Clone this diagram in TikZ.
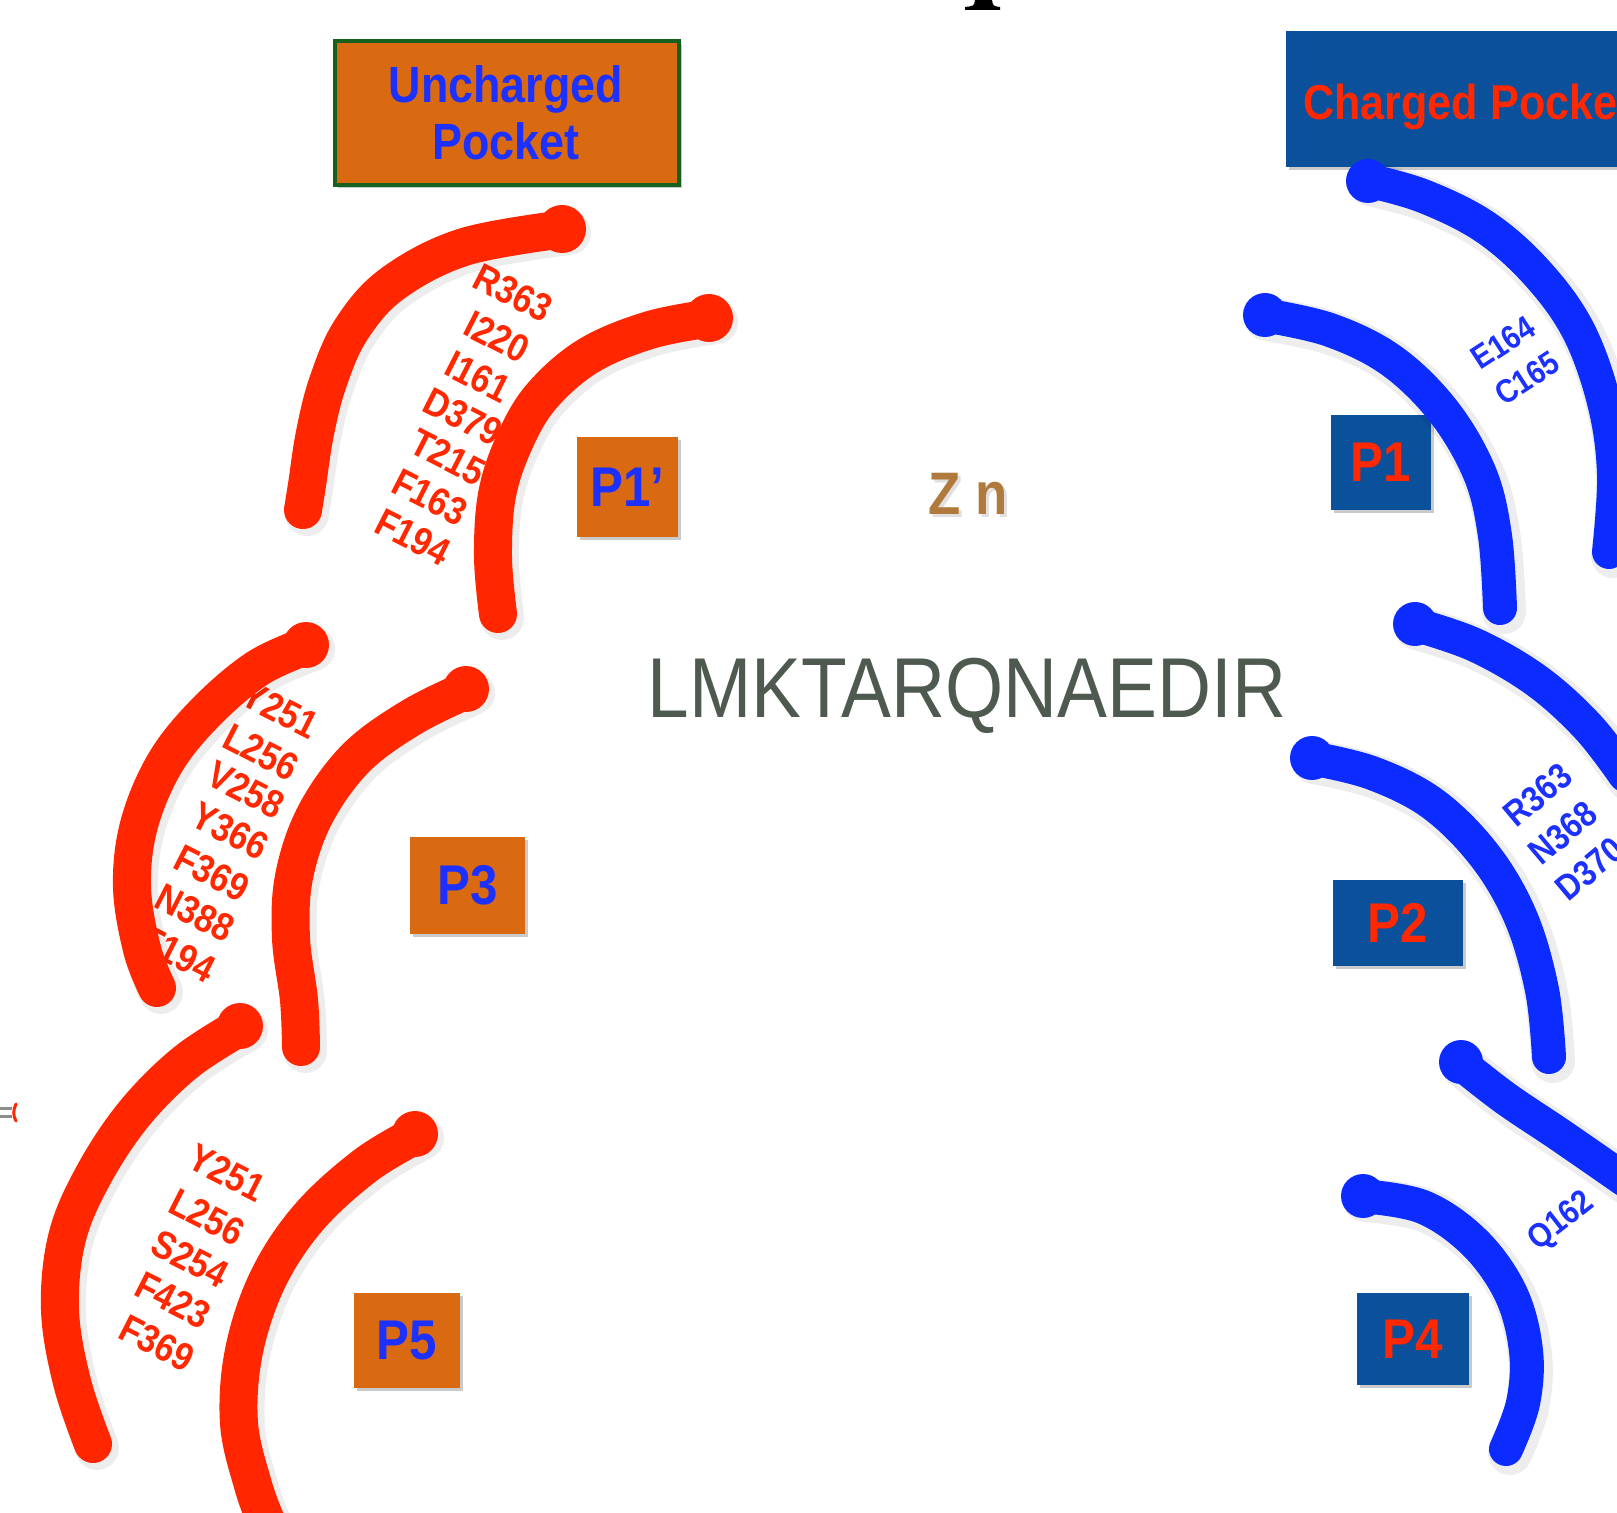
\documentclass[tikz,border=0pt]{standalone}
\usepackage{fontspec}
\setmainfont{Liberation Sans}[FakeStretch=0.88]
\usetikzlibrary{shadows}
\definecolor{pocketorange}{RGB}{217,106,18}
\definecolor{pocketgreen}{RGB}{22,96,30}
\definecolor{labelblue}{RGB}{28,48,255}
\definecolor{boxblue}{RGB}{10,80,155}
\definecolor{labelred}{RGB}{255,40,0}
\definecolor{arcred}{RGB}{255,38,0}
\definecolor{arcblue}{RGB}{12,44,255}
\definecolor{zncol}{RGB}{176,122,60}
\definecolor{seqcol}{RGB}{78,90,80}
\tikzset{
  boxshadow/.style={drop shadow={shadow xshift=1.5pt,shadow yshift=-1.5pt,opacity=0.35,fill=black!60}},
  obox/.style={fill=pocketorange,boxshadow,inner sep=0pt,text=labelblue,font=\bfseries\fontsize{28}{30}\selectfont},
  bbox/.style={fill=boxblue,boxshadow,inner sep=0pt,text=labelred,font=\bfseries\fontsize{28}{30}\selectfont},
  redres/.style={inner sep=0pt,text=labelred,font=\bfseries\fontsize{19.5}{19.5}\selectfont,rotate=-27},
  blueres/.style={inner sep=0pt,text=labelblue,font=\bfseries\fontsize{16.5}{16.5}\selectfont,rotate=36},
  redarc/.style={draw=arcred,line width=19pt,line cap=round,line join=round},
  bluearc/.style={draw=arcblue,line width=17pt,line cap=round,line join=round},
  arcshadow/.style={draw=black,opacity=0.07,line width=22pt,line cap=round,line join=round},
}
\begin{document}
\begin{tikzpicture}[x=0.5pt,y=-0.5pt]
\useasboundingbox (0,0) rectangle (1617,1513);
\clip (0,0) rectangle (1617,1513);

% top fragment
\fill[black] (965,10) -- (1000,10) -- (1000,7) .. controls (993,6) .. (992,0) -- (975,0) .. controls (974,6) .. (965,7) -- cycle;
% left fragment
\draw[black!45,line width=1.5pt] (0,1108) -- (12,1108) (0,1116) -- (12,1116);
\draw[arcred,line width=1.5pt,line cap=round] (16,1104) .. controls (13,1110) and (13,1116) .. (16,1121);

% header boxes
\node[draw=pocketgreen,line width=2pt,fill=pocketorange,boxshadow,minimum width=172pt,minimum height=72pt,inner sep=0pt] (uncharged) at (507,113.5) {};
\node[text=labelblue,font=\bfseries\fontsize{25.5}{28.5}\selectfont,align=center,inner sep=0pt] (unchargedtext) at (506,113) {Uncharged\\Pocket};
\node[bbox,minimum width=207pt,minimum height=68pt] (charged) at (1493,99) {};
\node[text=labelred,font=\bfseries\fontsize{24.5}{25}\selectfont,inner sep=0pt,anchor=base west] (chargedtext) at (1303,120) {Charged Pocket};

% pocket boxes
\node[obox,minimum width=50.5pt,minimum height=50pt] (p1p) at (627.5,487) {P1’};
\node[obox,minimum width=57.5pt,minimum height=48.5pt] (p3) at (467.5,885.5) {P3};
\node[obox,minimum width=53pt,minimum height=47.5pt] (p5) at (407,1340.5) {P5};
\node[bbox,minimum width=50pt,minimum height=47.5pt] (p1) at (1381,462.5) {P1};
\node[bbox,minimum width=65pt,minimum height=43pt] (p2) at (1398,923) {P2};
\node[bbox,minimum width=56pt,minimum height=46pt] (p4) at (1413,1339) {P4};

% centre texts
\node[text=black,opacity=0.12,font=\bfseries\fontsize{30}{30}\selectfont,anchor=base,inner sep=0pt] (znshadow) at (971,518) {Z n};
\node[text=zncol,font=\bfseries\fontsize{30}{30}\selectfont,anchor=base,inner sep=0pt] (zn) at (968,515) {Z n};
\node[text=seqcol,font=\fontsize{42.5}{44}\selectfont,anchor=base,inner sep=0pt] (seq) at (967,717) {LMKTARQNAEDIR};

% residue labels, P1'
\node[redres] (a1) at (513,293) {R363};
\node[redres] (a2) at (497,337) {I220};
\node[redres] (a3) at (478,377) {I161};
\node[redres] (a4) at (463,417) {D379};
\node[redres] (a5) at (448,457) {T215};
\node[redres] (a6) at (430,497) {F163};
\node[redres] (a7) at (413,537) {F194};
% P3
\node[redres] (b1) at (280,710) {Y251};
\node[redres] (b2) at (261,752) {L256};
\node[redres] (b3) at (246,790) {V258};
\node[redres] (b4) at (230,831) {Y366};
\node[redres] (b5) at (212,873) {F369};
\node[redres] (b6) at (195,913) {N388};
\node[redres] (b7) at (178,954) {F194};
% P5
\node[redres] (c1) at (227,1173) {Y251};
\node[redres] (c2) at (207,1217) {L256};
\node[redres] (c3) at (190,1259) {S254};
\node[redres] (c4) at (173,1300) {F423};
\node[redres] (c5) at (157,1343) {F369};
% blue labels
\node[blueres,rotate=-3] (d1) at (1503,343) {E164};
\node[blueres,rotate=-3] (d2) at (1527,378) {C165};
\node[blueres,rotate=4,font=\bfseries\fontsize{18}{18}\selectfont] (e1) at (1538,795) {R363};
\node[blueres,rotate=4,font=\bfseries\fontsize{18}{18}\selectfont] (e2) at (1563,833) {N368};
\node[blueres,rotate=4,font=\bfseries\fontsize{18}{18}\selectfont] (e3) at (1590,869) {D370};
\node[blueres,rotate=2,font=\bfseries\fontsize{17}{17}\selectfont] (f1) at (1562,1222) {Q162};

% arc shadows
\begin{scope}[shift={(4,4)}]
\draw[arcshadow] plot[smooth,tension=0.6] coordinates {(565,229) (464,247) (392,284) (351,330) (328,382) (315,433) (307,485) (303,510)};
\draw[arcshadow] plot[smooth,tension=0.6] coordinates {(712,318) (650,330) (588,356) (541,397) (514,443) (497,495) (493,557) (498,614)};
\draw[arcshadow] plot[smooth,tension=0.6] coordinates {(309,645) (258,668) (206,712) (165,763) (139,825) (132,887) (142,949) (157,988)};
\draw[arcshadow] plot[smooth,tension=0.6] coordinates {(469,689) (412,717) (356,758) (315,815) (294,877) (291,938) (299,1000) (301,1047)};
\draw[arcshadow] plot[smooth,tension=0.6] coordinates {(242,1026) (186,1062) (134,1114) (93,1176) (67,1238) (60,1310) (72,1382) (93,1444)};
\draw[arcshadow] plot[smooth,tension=0.6] coordinates {(418,1134) (366,1165) (309,1217) (268,1279) (244,1351) (239,1423) (253,1485) (266,1521)};
\draw[arcshadow] plot[smooth,tension=0.6] coordinates {(1366,180) (1423,196) (1485,227) (1537,273) (1578,330) (1604,402) (1614,474) (1609,552)};
\draw[arcshadow] plot[smooth,tension=0.6] coordinates {(1263,315) (1330,330) (1392,361) (1444,412) (1480,474) (1495,536) (1500,608)};
\draw[arcshadow] plot[smooth,tension=0.6] coordinates {(1413,624) (1475,645) (1537,681) (1588,727) (1625,775)};
\draw[arcshadow] plot[smooth,tension=0.6] coordinates {(1310,758) (1372,773) (1433,804) (1485,856) (1521,918) (1542,990) (1549,1057)};
\draw[arcshadow] plot[smooth,tension=0.6] coordinates {(1459,1062) (1505,1098) (1560,1135) (1625,1180)};
\draw[arcshadow] plot[smooth,tension=0.6] coordinates {(1361,1196) (1423,1207) (1475,1243) (1511,1294) (1526,1351) (1523,1403) (1506,1449)};
\end{scope}

% red arcs
\draw[redarc] plot[smooth,tension=0.6] coordinates {(565,229) (464,247) (392,284) (351,330) (328,382) (315,433) (307,485) (303,510)};
\draw[redarc] plot[smooth,tension=0.6] coordinates {(712,318) (650,330) (588,356) (541,397) (514,443) (497,495) (493,557) (498,614)};
\draw[redarc] plot[smooth,tension=0.6] coordinates {(309,645) (258,668) (206,712) (165,763) (139,825) (132,887) (142,949) (157,988)};
\draw[redarc] plot[smooth,tension=0.6] coordinates {(469,689) (412,717) (356,758) (315,815) (294,877) (291,938) (299,1000) (301,1047)};
\draw[redarc] plot[smooth,tension=0.6] coordinates {(242,1026) (186,1062) (134,1114) (93,1176) (67,1238) (60,1310) (72,1382) (93,1444)};
\draw[redarc] plot[smooth,tension=0.6] coordinates {(418,1134) (366,1165) (309,1217) (268,1279) (244,1351) (239,1423) (253,1485) (266,1521)};
\fill[arcred] (562,229) circle[radius=24] (709,318) circle[radius=24] (306,645) circle[radius=23] (466,689) circle[radius=23] (240,1026) circle[radius=23] (415,1134) circle[radius=23];

% blue arcs
\draw[bluearc] plot[smooth,tension=0.6] coordinates {(1366,180) (1423,196) (1485,227) (1537,273) (1578,330) (1604,402) (1614,474) (1609,552)};
\draw[bluearc] plot[smooth,tension=0.6] coordinates {(1263,315) (1330,330) (1392,361) (1444,412) (1480,474) (1495,536) (1500,608)};
\draw[bluearc] plot[smooth,tension=0.6] coordinates {(1413,624) (1475,645) (1537,681) (1588,727) (1625,775)};
\draw[bluearc] plot[smooth,tension=0.6] coordinates {(1310,758) (1372,773) (1433,804) (1485,856) (1521,918) (1542,990) (1549,1057)};
\draw[bluearc] plot[smooth,tension=0.6] coordinates {(1459,1062) (1505,1098) (1560,1135) (1625,1180)};
\draw[bluearc] plot[smooth,tension=0.6] coordinates {(1361,1196) (1423,1207) (1475,1243) (1511,1294) (1526,1351) (1523,1403) (1506,1449)};
\fill[arcblue] (1368,181) circle[radius=22] (1265,315) circle[radius=22] (1415,624) circle[radius=22] (1312,758) circle[radius=22] (1461,1062) circle[radius=22] (1363,1196) circle[radius=22];
\end{tikzpicture}
\end{document}
